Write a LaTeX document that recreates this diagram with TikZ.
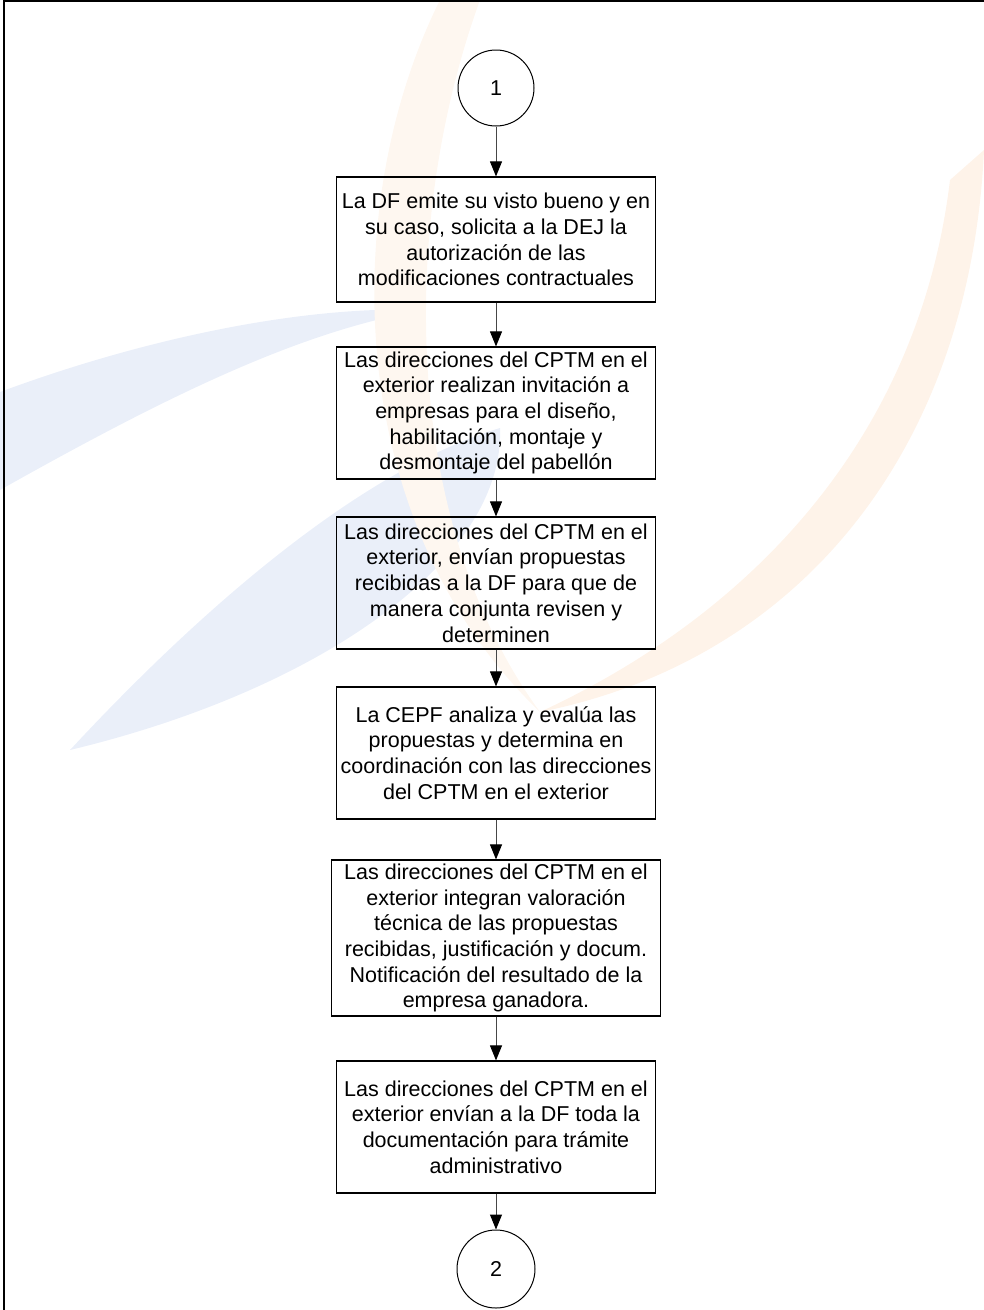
\documentclass[tikz,border=0pt]{standalone}
\usepackage{fontspec}
\setmainfont{Liberation Sans}
\usetikzlibrary{arrows.meta}
\definecolor{wmblue}{RGB}{234,239,249}
\definecolor{wmorange}{RGB}{254,243,233}
\definecolor{wmorangelight}{RGB}{254,247,240}
\definecolor{linegray}{RGB}{70,70,70}

\begin{document}
\begin{tikzpicture}[x=1pt,y=-1pt,
  txt/.style={font=\fontsize{21.5}{25.7}\selectfont},
  stepbox/.style={txt, draw=black, line width=1.2pt, align=center, inner sep=0pt,
    minimum width=319pt, minimum height=132pt},
  joint/.style={txt, draw=black, line width=1pt, circle, minimum size=76pt, inner sep=0pt},
  flow/.style={draw=linegray, line width=1pt,
    -{Triangle[length=15pt,width=12pt,color=black]}}
]
\useasboundingbox (0,0) rectangle (984,1310);

% faint logo swooshes in the background
\fill[wmblue] (0,392) .. controls (140,340) and (300,305) .. (425,310)
  .. controls (300,330) and (160,400) .. (0,490) -- cycle;
\fill[wmblue] (70,750) .. controls (200,610) and (360,470) .. (500,428)
  .. controls (505,560) and (320,690) .. (70,750) -- cycle;
\fill[wmorangelight] (440,0) .. controls (340,200) and (340,520) .. (540,712)
  .. controls (400,520) and (400,220) .. (480,0) -- cycle;
\fill[wmorange] (984,150) .. controls (970,450) and (800,660) .. (540,712)
  .. controls (760,610) and (920,430) .. (950,180) -- cycle;

% page frame
\draw[line width=1.5pt] (4,1310) -- (4,1.2) -- (984,1.2);

% chart
\node[joint] (c1) at (496,88) {1};
\node[stepbox, minimum height=125pt] (b1) at (496,239.5)
  {La DF emite su visto bueno y en\\ su caso, solicita a la DEJ la\\ autorización de las\\ modificaciones contractuales};
\node[stepbox] (b2) at (496,413)
  {Las direcciones del CPTM en el\\ exterior realizan invitación a\\ empresas para el diseño,\\ habilitación, montaje y\\ desmontaje del pabellón};
\node[stepbox] (b3) at (496,583)
  {Las direcciones del CPTM en el\\ exterior, envían propuestas\\ recibidas a la DF para que de\\ manera conjunta revisen y\\ determinen};
\node[stepbox] (b4) at (496,753)
  {La CEPF analiza y evalúa las\\ propuestas y determina en\\ coordinación con las direcciones\\ del CPTM en el exterior};
\node[stepbox, minimum width=329pt, minimum height=156pt] (b5) at (496,938)
  {Las direcciones del CPTM en el\\ exterior integran valoración\\ técnica de las propuestas\\ recibidas, justificación y docum.\\ Notificación del resultado de la\\ empresa ganadora.};
\node[stepbox] (b6) at (496,1127)
  {Las direcciones del CPTM en el\\ exterior envían a la DF toda la\\ documentación para trámite\\ administrativo};
\node[joint, minimum size=78pt] (c2) at (496,1269) {2};

\draw[flow] (c1) -- (b1);
\draw[flow] (b1) -- (b2);
\draw[flow] (b2) -- (b3);
\draw[flow] (b3) -- (b4);
\draw[flow] (b4) -- (b5);
\draw[flow] (b5) -- (b6);
\draw[flow] (b6) -- (c2);
\end{tikzpicture}
\end{document}
